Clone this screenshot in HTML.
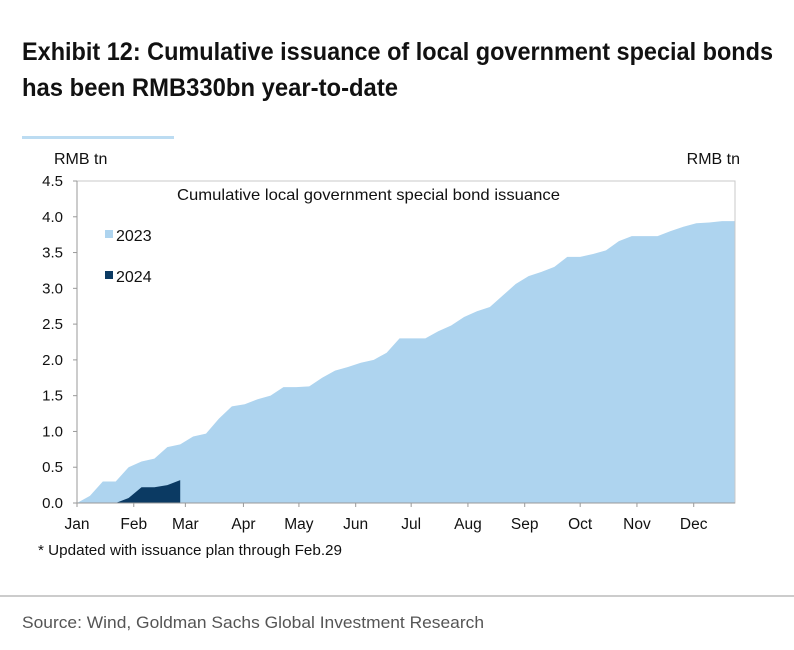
<!DOCTYPE html>
<html><head><meta charset="utf-8"><style>
body{margin:0;background:#fff;}
svg{display:block;font-family:"Liberation Sans",Arial,sans-serif;}
</style></head><body>
<svg id="chart" width="794" height="650" viewBox="0 0 794 650">
<text x="22" y="60" font-size="25" font-weight="bold" fill="#111" textLength="751" lengthAdjust="spacingAndGlyphs">Exhibit 12: Cumulative issuance of local government special bonds</text>
<text x="22" y="96" font-size="25" font-weight="bold" fill="#111" textLength="376" lengthAdjust="spacingAndGlyphs">has been RMB330bn year-to-date</text>
<rect x="22" y="136" width="152" height="3" fill="#bcdcf2"/>
<text x="54" y="164" font-size="16" fill="#111">RMB tn</text>
<text x="740" y="164" font-size="16" fill="#111" text-anchor="end">RMB tn</text>
<g id="plot"></g>
<text x="177" y="200" font-size="16" fill="#111" textLength="383" lengthAdjust="spacingAndGlyphs">Cumulative local government special bond issuance</text>
<rect x="105" y="230" width="8" height="8" fill="#aed4ef"/>
<text x="116" y="241" font-size="16" fill="#111">2023</text>
<rect x="105" y="271" width="8" height="8" fill="#0b3a63"/>
<text x="116" y="282" font-size="16" fill="#111">2024</text>
<text x="38" y="555" font-size="15" fill="#111" textLength="304" lengthAdjust="spacingAndGlyphs">* Updated with issuance plan through Feb.29</text>
<line x1="0" y1="596" x2="794" y2="596" stroke="#999" stroke-width="1"/>
<text x="22" y="628" font-size="17" fill="#555" textLength="462" lengthAdjust="spacingAndGlyphs">Source: Wind, Goldman Sachs Global Investment Research</text>
</svg>
<script>
const months = ["Jan","Feb","Mar","Apr","May","Jun","Jul","Aug","Sep","Oct","Nov","Dec"];
const monthPos = [0,4.4,8.4,12.9,17.2,21.6,25.9,30.3,34.7,39.0,43.4,47.8];
const yTicks = [0,0.5,1.0,1.5,2.0,2.5,3.0,3.5,4.0,4.5];
const series2023 = [0,0.1,0.3,0.3,0.5,0.58,0.62,0.78,0.82,0.93,0.97,1.18,1.35,1.38,1.45,1.5,1.62,1.62,1.63,1.75,1.85,1.9,1.96,2.0,2.1,2.3,2.3,2.3,2.4,2.48,2.6,2.68,2.74,2.9,3.06,3.17,3.23,3.3,3.44,3.44,3.48,3.53,3.66,3.73,3.73,3.73,3.8,3.86,3.91,3.92,3.94,3.94];
const weeks2024 = [3,4,5,6,7,8];
const series2024 = [0,0.07,0.22,0.22,0.25,0.32];

const X0=77,X1=735,Y0=503,Y1=181,NW=series2023.length-1;
const xs=i=>X0+(X1-X0)*i/NW;
const ys=v=>Y0-(Y0-Y1)*v/4.5;
const NS="http://www.w3.org/2000/svg";
const plot=document.getElementById('plot');
function mk(t,a){const e=document.createElementNS(NS,t);for(const k in a)e.setAttribute(k,a[k]);plot.appendChild(e);return e;}

let d=`M${xs(0)},${ys(0)}`;
series2023.forEach((v,i)=>{d+=` L${xs(i)},${ys(v)}`;});
d+=` L${xs(NW)},${ys(0)} Z`;
const a1=mk('path',{d:d,fill:'#aed4ef'});



let d2=`M${xs(weeks2024[0])},${ys(0)}`;
series2024.forEach((v,i)=>{d2+=` L${xs(weeks2024[i])},${ys(v)}`;});
d2+=` L${xs(weeks2024[weeks2024.length-1])},${ys(0)} Z`;
const a2=mk('path',{d:d2,fill:'#0b3a63'});



const fr=mk('rect',{x:X0,y:Y1,width:X1-X0,height:Y0-Y1,fill:'none',stroke:'#c8c8c8','stroke-width':1});


const ax=mk('line',{x1:X0,y1:Y1,x2:X0,y2:Y0,stroke:'#999'});


const bx=mk('line',{x1:X0,y1:Y0,x2:X1,y2:Y0,stroke:'#999'});



yTicks.forEach(v=>{
  mk('line',{x1:X0-4,y1:ys(v),x2:X0,y2:ys(v),stroke:'#999'});
  const t=mk('text',{x:X0-14,y:ys(v)+5,'font-size':15,fill:'#111','text-anchor':'end'});
  t.textContent=v.toFixed(1);
  
  
});
months.forEach((m,i)=>{
  const x=xs(monthPos[i]);
  mk('line',{x1:x,y1:Y0,x2:x,y2:Y0+4,stroke:'#999'});
  const t=mk('text',{x:x,y:Y0+26,'font-size':15.5,fill:'#111','text-anchor':'middle'});
  t.textContent=m;
  
  
});
</script>
</body></html>
